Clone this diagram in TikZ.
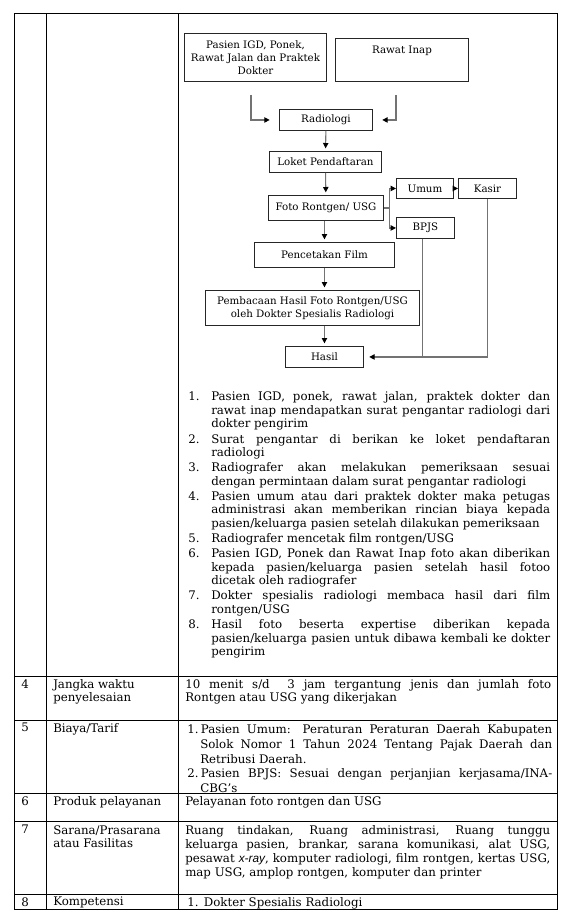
\documentclass[tikz,border=0pt]{standalone}
\usepackage{fontspec}
\setmainfont{DejaVu Serif}
\newfontfamily\raysans{Liberation Sans}
\usepackage{enumitem}
\usetikzlibrary{arrows.meta}
\hyphenpenalty=10000
\newcommand{\bodyfont}{\fontsize{8.85}{10.15}\selectfont}
\newcommand{\flowfont}{\fontsize{7.7}{9.7}\selectfont}
\tikzset{
	flowbox/.style 2 args={draw=black!85, line width=0.7pt, anchor=north west, inner sep=0pt,
		minimum width=#1*0.75pt, minimum height=#2*0.75pt, align=center, font=\flowfont},
	flowline/.style={draw=black!55, line width=0.8pt},
	flowarrow/.style={flowline, -{Triangle[length=4pt, width=4pt, color=black]}},
	celltext/.style={anchor=north west, inner sep=0pt, font=\bodyfont, align=left},
	cellpar/.style={celltext, align=justify, text width=#1*0.75pt},
}
\begin{document}
\begin{tikzpicture}[x=0.75pt, y=-0.75pt]
	\useasboundingbox (0,0) rectangle (566,922);
	% table grid
	\draw [line width=0.75pt] (14,13) rectangle (557,909);
	\draw [line width=0.75pt] (46,13) -- (46,909);
	\draw [line width=0.75pt] (178,13) -- (178,909);
	\foreach \y in {676,720,793,821,894}
		\draw [line width=0.75pt] (14,\y) -- (557,\y);
	% flow chart
	\node [flowbox={142}{48}] (igd) at (184,33) {Pasien IGD, Ponek,\\Rawat Jalan dan Praktek\\Dokter};
	\node [flowbox={133}{43}, text height=11.25pt, text depth=21pt, minimum height=0pt] (inap) at (335,38) {Rawat Inap};
	\node [flowbox={93}{21}] (radio) at (279,109) {Radiologi};
	\node [flowbox={112}{21}] (loket) at (269,151) {Loket Pendaftaran};
	\node [flowbox={115}{25}] (foto) at (268,195) {Foto Rontgen/ USG};
	\node [flowbox={57}{20}] (umum) at (396,178) {Umum};
	\node [flowbox={58}{20}] (kasir) at (458,178) {Kasir};
	\node [flowbox={58}{21}] (bpjs) at (396,217) {BPJS};
	\node [flowbox={140}{25}] (cetak) at (254,242) {Pencetakan Film};
	\node [flowbox={214}{35}] (baca) at (205,290) {Pembacaan Hasil Foto Rontgen/USG\\oleh Dokter Spesialis Radiologi};
	\node [flowbox={78}{21}] (hasil) at (285,346) {Hasil};
	\coordinate (igdout) at (251,95);
	\coordinate (inapout) at (396,95);
	\draw [flowarrow, shorten >=7pt] (igdout) |- (radio.west);
	\draw [flowarrow, shorten >=7pt] (inapout) |- (radio.east);
	\draw [flowarrow, shorten >=2pt] (radio) -- (loket);
	\draw [flowarrow, shorten >=2pt] (loket) -- (foto);
	\draw [flowline] (foto.east) -- ++(6,0) coordinate (fork);
	\draw [flowarrow] (fork) |- (umum.west);
	\draw [flowarrow] (fork) |- (bpjs.west);
	\draw [flowarrow] (umum) -- (kasir);
	\draw [flowarrow, shorten >=2pt] (foto.south -| cetak.north) -- (cetak.north);
	\draw [flowarrow, shorten >=2pt] (cetak.south) -- (cetak.south |- baca.north);
	\draw [flowarrow, shorten >=2pt] (baca.south -| hasil.north) -- (hasil.north);
	\draw [flowarrow, shorten >=4pt] (kasir.south) |- (hasil.east);
	\draw [flowline] ([xshift=-2pt]bpjs.south) -- ([xshift=-2pt]bpjs.south |- hasil.east);
	% steps
	\node [cellpar=362] (steps) at (188,387) {%
		\begin{enumerate}[label=\arabic*., leftmargin=17.25pt, labelwidth=12pt, labelsep=5.25pt, align=left,
			topsep=0pt, partopsep=0pt, parsep=0pt, itemsep=1.2pt]
		\item Pasien IGD, ponek, rawat jalan, praktek dokter dan\linebreak rawat inap mendapatkan surat pengantar radiologi dari\linebreak dokter pengirim
		\item Surat pengantar di berikan ke loket pendaftaran\linebreak radiologi
		\item Radiografer akan melakukan pemeriksaan sesuai\linebreak dengan permintaan dalam surat pengantar radiologi
		\item Pasien umum atau dari praktek dokter maka petugas\linebreak administrasi akan memberikan rincian biaya kepada\linebreak pasien/keluarga pasien setelah dilakukan pemeriksaan
		\item Radiografer mencetak film rontgen/USG
		\item Pasien IGD, Ponek dan Rawat Inap foto akan diberikan\linebreak kepada pasien/keluarga pasien setelah hasil fotoo\linebreak dicetak oleh radiografer
		\item Dokter spesialis radiologi membaca hasil dari film\linebreak rontgen/USG
		\item Hasil foto beserta expertise diberikan kepada\linebreak pasien/keluarga pasien untuk dibawa kembali ke dokter\linebreak pengirim
		\end{enumerate}};
	% row 4
	\node [celltext] (num4) at (21,679) {4};
	\node [celltext] (lbl4) at (53,679) {Jangka waktu\\penyelesaian};
	\node [cellpar=366] (val4) at (185,679) {10 menit s/d\ \ 3 jam tergantung jenis dan jumlah foto\linebreak Rontgen atau USG yang dikerjakan};
	% row 5
	\node [celltext] (num5) at (21,723) {5};
	\node [celltext] (lbl5) at (53,723) {Biaya/Tarif};
	\node [cellpar=365, font=\fontsize{8.85}{11}\selectfont] (val5) at (187,719) {%
		\begin{enumerate}[label=\arabic*., leftmargin=9.75pt, labelwidth=8pt, labelsep=1.75pt, align=left,
			topsep=0pt, partopsep=0pt, parsep=0pt, itemsep=0pt]
		\item Pasien Umum: Peraturan Peraturan Daerah Kabupaten\linebreak Solok Nomor 1 Tahun 2024 Tentang Pajak Daerah dan\linebreak Retribusi Daerah.
		\item Pasien BPJS: Sesuai dengan perjanjian kerjasama/INA-\linebreak CBG’s
		\end{enumerate}};
	% row 6
	\node [celltext] (num6) at (21,796) {6};
	\node [celltext] (lbl6) at (53,796) {Produk pelayanan};
	\node [celltext] (val6) at (185,796) {Pelayanan foto rontgen dan USG};
	% row 7
	\node [celltext] (num7) at (21,825) {7};
	\node [celltext] (lbl7) at (53,825) {Sarana/Prasarana\\atau Fasilitas};
	\node [cellpar=365, font=\fontsize{8.85}{10.5}\selectfont] (val7) at (185,825) {Ruang tindakan, Ruang administrasi, Ruang tunggu\linebreak keluarga pasien, brankar, sarana komunikasi, alat USG,\linebreak pesawat \mbox{\raysans\itshape x-ray}, komputer radiologi, film rontgen, kertas USG,\linebreak map USG, amplop rontgen, komputer dan printer};
	% row 8
	\node [celltext] (num8) at (21,897) {8};
	\node [celltext] (lbl8) at (53,897) {Kompetensi};
	\node [celltext] (val8) at (187,897) {1.\hspace{4pt}Dokter Spesialis Radiologi};
\end{tikzpicture}
\end{document}
